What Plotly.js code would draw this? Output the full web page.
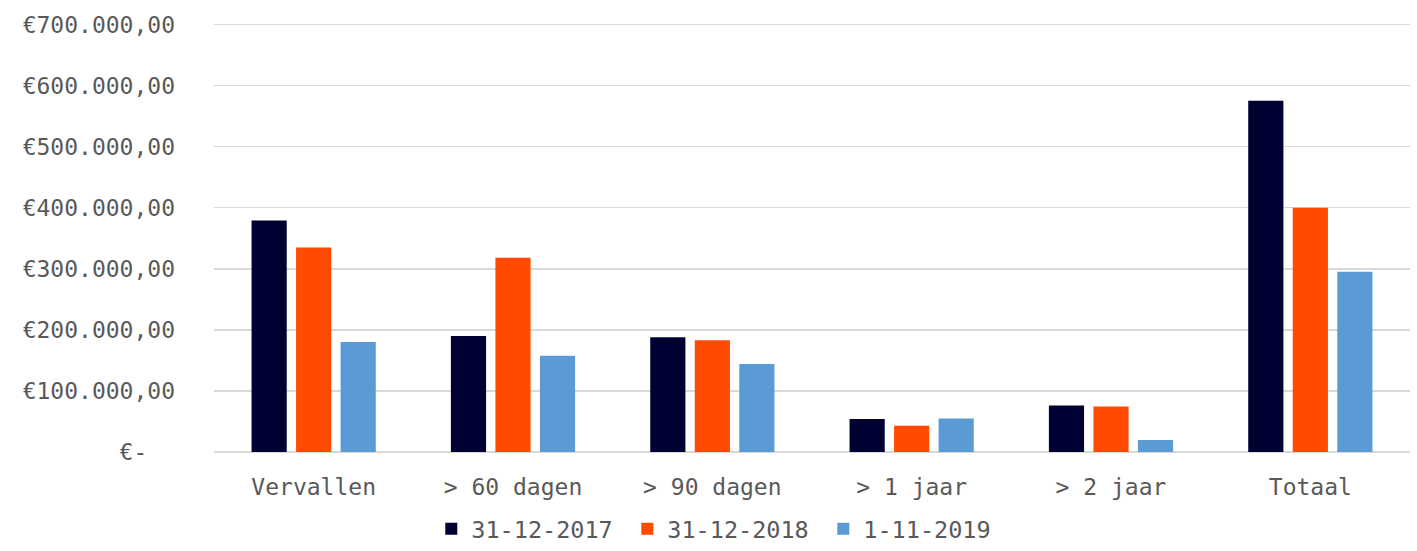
<!DOCTYPE html>
<html>
<head>
<meta charset="utf-8">
<script src="https://cdn.plot.ly/plotly-3.0.1.min.js"></script>
<style>html,body{margin:0;padding:0;background:#fff;}#chart{width:1417px;height:551px;}</style>
</head>
<body>
<div id="chart"></div>
<script>
const categories = ["Vervallen", "> 60 dagen", "> 90 dagen", "> 1 jaar", "> 2 jaar", "Totaal"];
const seriesNames = ["31-12-2017", "31-12-2018", "1-11-2019"];
const values2017 = [379000, 190000, 188000, 54000, 76000, 575000];
const values2018 = [335000, 318000, 183000, 43000, 74500, 400000];
const values2019 = [180000, 157500, 144000, 55000, 19700, 295000];
const colors = ["#000033", "#FF4A00", "#5B9BD5"];
const tickVals = [0, 100000, 200000, 300000, 400000, 500000, 600000, 700000];
const tickText = ["€-\u00a0\u00a0", "€100.000,00", "€200.000,00", "€300.000,00", "€400.000,00", "€500.000,00", "€600.000,00", "€700.000,00"];

const font = "'DejaVu Sans Mono', 'Liberation Mono', monospace";
const allValues = [values2017, values2018, values2019];
const traces = allValues.map((v, i) => ({
  type: "bar",
  name: seriesNames[i],
  x: categories,
  y: v,
  marker: {color: colors[i], line: {width: 0}},
  hoverinfo: "none"
}));

const layout = {
  width: 1417, height: 551,
  margin: {l: 214, r: 7, t: 22, b: 99, autoexpand: false},
  paper_bgcolor: "#ffffff", plot_bgcolor: "#ffffff",
  barmode: "group",
  bargap: 0.33,
  bargroupgap: 0.21,
  font: {family: font, size: 23, color: "#595959"},
  showlegend: true,
  legend: {
    orientation: "h", x: 0.4275, xanchor: "center", y: -0.2302, yanchor: "bottom",
    font: {family: font, size: 23.5, color: "#595959"},
    entrywidth: 151, entrywidthmode: "pixels",
    itemwidth: 30, traceorder: "normal"
  },
  xaxis: {
    type: "category",
    showgrid: false, showline: false, zeroline: false,
    ticks: "", ticklabelstandoff: 19,
    tickfont: {family: font, size: 23, color: "#595959"}
  },
  yaxis: {
    range: [0, 704000],
    tickmode: "array", tickvals: tickVals, ticktext: tickText,
    showgrid: true, gridcolor: "#d9d9d9", gridwidth: 1.5,
    zeroline: true, zerolinecolor: "#d9d9d9", zerolinewidth: 1.5,
    showline: false, ticks: "", ticklabelstandoff: 38,
    tickfont: {family: font, size: 23, color: "#595959"}
  }
};

Plotly.newPlot("chart", traces, layout, {displayModeBar: false, staticPlot: true});
</script>
</body>
</html>
